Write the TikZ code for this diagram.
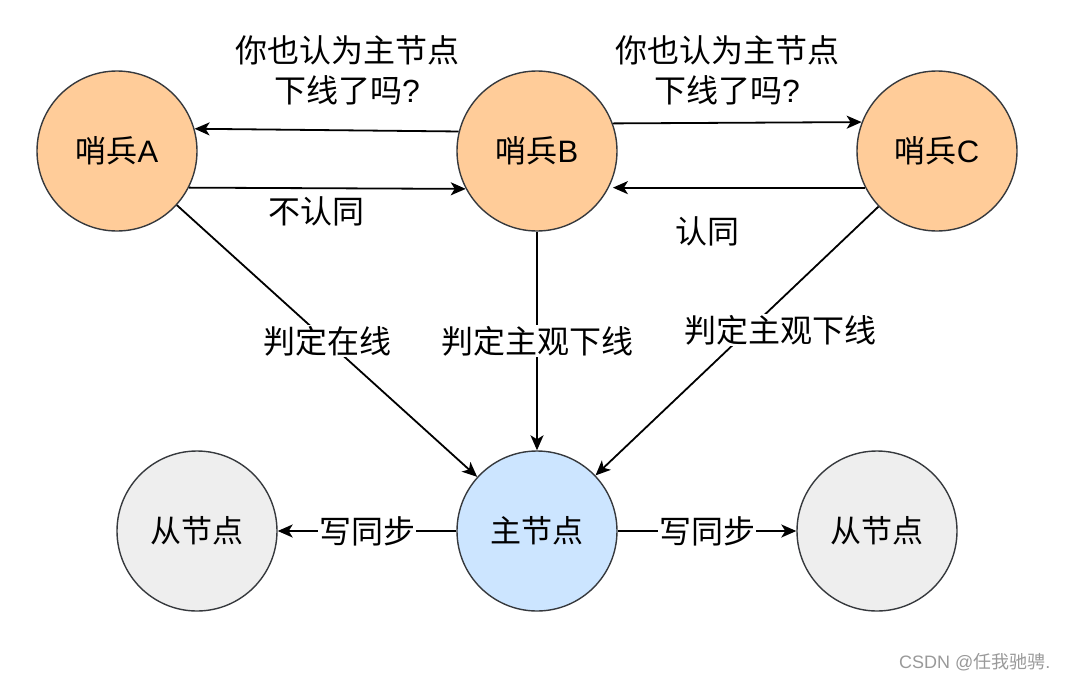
\documentclass[tikz,border=0pt]{standalone}
\usepackage{fontspec}
\setmainfont{Noto Sans CJK SC}
\newfontfamily\lat{Liberation Sans}
\usetikzlibrary{arrows.meta}
\definecolor{orangefill}{HTML}{FFCC99}
\definecolor{bluefill}{HTML}{CCE5FF}
\definecolor{grayfill}{HTML}{EEEEEE}
\definecolor{strokec}{HTML}{36393D}
\tikzset{
  sentinel/.style={circle, draw=strokec, line width=1.4pt, fill=orangefill, minimum size=160pt, inner sep=0pt, font=\fontsize{31}{36}\selectfont},
  masternode/.style={sentinel, fill=bluefill},
  slavenode/.style={sentinel, fill=grayfill},
  conn/.style={line width=1.8pt, -{Stealth[length=15pt, width=13pt, inset=4pt]}},
  lbl/.style={font=\fontsize{32}{40}\selectfont, inner sep=1pt, align=center},
  onlbl/.style={lbl, fill=white},
}
\begin{document}
\begin{tikzpicture}[x=1pt, y=-1pt]
\useasboundingbox (0,0) rectangle (1066,686);
\node[sentinel] (A) at (117,151) {哨兵{\lat A}};
\node[sentinel] (B) at (537,151) {哨兵{\lat B}};
\node[sentinel] (C) at (937,151) {哨兵{\lat C}};
\node[masternode] (M) at (537,531) {主节点};
\node[slavenode] (S1) at (197,531) {从节点};
\node[slavenode] (S2) at (877,531) {从节点};

\draw[conn] (B.166) -- (A.16);
\draw[conn] (A.-27) -- (B.208);
\draw[conn] (B.20) -- (C.159);
\draw[conn, shorten >=4pt] (C.207) -- (B.-27);

\draw[conn] (A) -- node[onlbl] {判定在线} (M);
\draw[conn] (B) -- node[onlbl] {判定主观下线} (M);
\draw[conn] (C) -- node[onlbl, pos=0.46, xshift=32pt] {判定主观下线} (M);
\draw[conn] (M) -- node[onlbl] {写同步} (S1);
\draw[conn] (M) -- node[onlbl] {写同步} (S2);

\node[lbl] (q1) at (347,70) {你也认为主节点\\下线了吗{\lat ?}};
\node[lbl] (q2) at (727,70) {你也认为主节点\\下线了吗{\lat ?}};
\node[lbl] (disagree) at (316,211) {不认同};
\node[lbl] (agree) at (707,231) {认同};

\node[font=\fontsize{18}{20}\selectfont, text=gray!80, anchor=east] (wm) at (1054,662) {{\lat CSDN @}任我驰骋{\lat .}};
\end{tikzpicture}
\end{document}
